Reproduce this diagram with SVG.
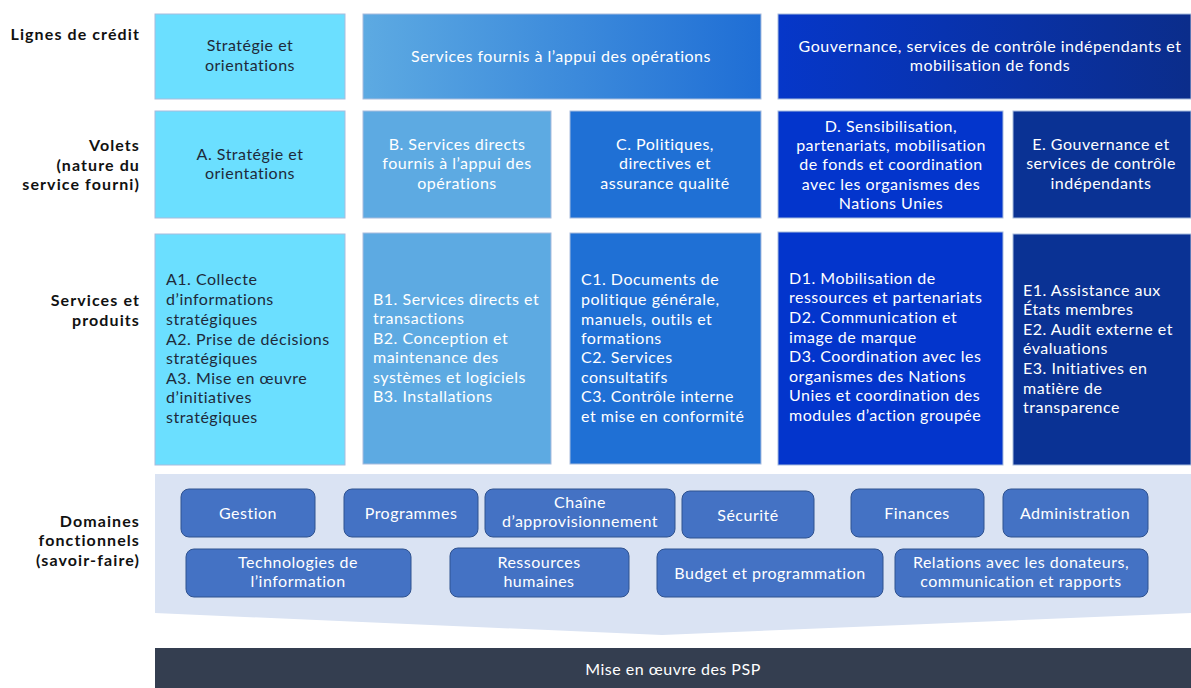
<svg xmlns="http://www.w3.org/2000/svg" width="1191" height="688" viewBox="0 0 1191 688">
<defs>
<linearGradient id="g2" x1="0" y1="0" x2="1" y2="0"><stop offset="0" stop-color="#5DAAE2"/><stop offset="1" stop-color="#1F6ED5"/></linearGradient>
<linearGradient id="g3" x1="0" y1="0" x2="1" y2="0"><stop offset="0" stop-color="#0637C9"/><stop offset="1" stop-color="#0B2D8B"/></linearGradient>
<style>
text{font-family:Lato,"Open Sans","Liberation Sans",sans-serif;font-size:16px;letter-spacing:0.5px}
.lbl{font-weight:bold;fill:#111;text-anchor:end;letter-spacing:1.1px}
.box{stroke:#A8BCDD;stroke-width:1}
.dk{fill:#1E2A3A}
.wt{fill:#fff}
.c{text-anchor:middle}
.dom{fill:#4472C4;stroke:#2F528F;stroke-width:1}
</style>
</defs>
<rect width="1191" height="688" fill="#fff"/>

<g id="labels">
<text class="lbl" x="140" y="40">Lignes de crédit</text>
<text class="lbl" x="140" y="151">Volets</text>
<text class="lbl" x="140" y="171">(nature du</text>
<text class="lbl" x="140" y="190">service fourni)</text>
<text class="lbl" x="140" y="306">Services et</text>
<text class="lbl" x="140" y="326">produits</text>
<text class="lbl" x="140" y="527">Domaines</text>
<text class="lbl" x="140" y="546">fonctionnels</text>
<text class="lbl" x="140" y="566">(savoir-faire)</text>
</g>

<g id="ligne1">
<rect class="box" x="155" y="14" width="190" height="85" fill="#6BDFFF"/>
<text class="dk c" x="250" y="51">Stratégie et</text>
<text class="dk c" x="250" y="71">orientations</text>
</g>
<g id="ligne2">
<rect class="box" x="363" y="14" width="398" height="85" fill="url(#g2)"/>
<text class="wt c" x="561" y="62">Services fournis à l’appui des opérations</text>
</g>
<g id="ligne3">
<rect class="box" x="778" y="14" width="413" height="85" fill="url(#g3)"/>
<text class="wt c" x="990" y="52">Gouvernance, services de contrôle indépendants et</text>
<text class="wt c" x="990" y="71">mobilisation de fonds</text>
</g>

<g id="voletA">
<rect class="box" x="155" y="111" width="190" height="107" fill="#6BDFFF"/>
<text class="dk c" x="250" y="160">A. Stratégie et</text>
<text class="dk c" x="250" y="179">orientations</text>
</g>
<g id="voletB">
<rect class="box" x="363" y="111" width="188" height="107" fill="#5DAAE2"/>
<text class="wt c" x="457" y="150">B. Services directs</text>
<text class="wt c" x="457" y="169">fournis à l’appui des</text>
<text class="wt c" x="457" y="189">opérations</text>
</g>
<g id="voletC">
<rect class="box" x="570" y="111" width="191" height="107" fill="#1F70D5"/>
<text class="wt c" x="665" y="150">C. Politiques,</text>
<text class="wt c" x="665" y="169">directives et</text>
<text class="wt c" x="665" y="189">assurance qualité</text>
</g>
<g id="voletD">
<rect class="box" x="778" y="111" width="225" height="107" fill="#0335CC"/>
<text class="wt c" x="891" y="132">D. Sensibilisation,</text>
<text class="wt c" x="891" y="151">partenariats, mobilisation</text>
<text class="wt c" x="891" y="170">de fonds et coordination</text>
<text class="wt c" x="891" y="190">avec les organismes des</text>
<text class="wt c" x="891" y="209">Nations Unies</text>
</g>
<g id="voletE">
<rect class="box" x="1013" y="111" width="178" height="107" fill="#0A3294"/>
<text class="wt c" x="1101" y="150">E. Gouvernance et</text>
<text class="wt c" x="1101" y="169">services de contrôle</text>
<text class="wt c" x="1101" y="189">indépendants</text>
</g>

<g id="servA">
<rect class="box" x="155" y="234" width="190" height="231" fill="#6BDFFF"/>
<text class="dk" x="166" y="285">A1. Collecte</text>
<text class="dk" x="166" y="305">d’informations</text>
<text class="dk" x="166" y="325">stratégiques</text>
<text class="dk" x="166" y="345">A2. Prise de décisions</text>
<text class="dk" x="166" y="364">stratégiques</text>
<text class="dk" x="166" y="384">A3. Mise en œuvre</text>
<text class="dk" x="166" y="403">d’initiatives</text>
<text class="dk" x="166" y="423">stratégiques</text>
</g>
<g id="servB">
<rect class="box" x="363" y="233" width="188" height="231" fill="#5DAAE2"/>
<text class="wt" x="373" y="305">B1. Services directs et</text>
<text class="wt" x="373" y="324">transactions</text>
<text class="wt" x="373" y="344">B2. Conception et</text>
<text class="wt" x="373" y="363">maintenance des</text>
<text class="wt" x="373" y="383">systèmes et logiciels</text>
<text class="wt" x="373" y="402">B3. Installations</text>
</g>
<g id="servC">
<rect class="box" x="570" y="233" width="191" height="231" fill="#1F70D5"/>
<text class="wt" x="581" y="285">C1. Documents de</text>
<text class="wt" x="581" y="305">politique générale,</text>
<text class="wt" x="581" y="325">manuels, outils et</text>
<text class="wt" x="581" y="344">formations</text>
<text class="wt" x="581" y="363">C2. Services</text>
<text class="wt" x="581" y="383">consultatifs</text>
<text class="wt" x="581" y="402">C3. Contrôle interne</text>
<text class="wt" x="581" y="422">et mise en conformité</text>
</g>
<g id="servD">
<rect class="box" x="778" y="232" width="225" height="233" fill="#0335CC"/>
<text class="wt" x="789" y="284">D1. Mobilisation de</text>
<text class="wt" x="789" y="303">ressources et partenariats</text>
<text class="wt" x="789" y="323">D2. Communication et</text>
<text class="wt" x="789" y="343">image de marque</text>
<text class="wt" x="789" y="362">D3. Coordination avec les</text>
<text class="wt" x="789" y="382">organismes des Nations</text>
<text class="wt" x="789" y="401">Unies et coordination des</text>
<text class="wt" x="789" y="421">modules d’action groupée</text>
</g>
<g id="servE">
<rect class="box" x="1013" y="234" width="178" height="231" fill="#0A3294"/>
<text class="wt" x="1023" y="296">E1. Assistance aux</text>
<text class="wt" x="1023" y="315">États membres</text>
<text class="wt" x="1023" y="335">E2. Audit externe et</text>
<text class="wt" x="1023" y="354">évaluations</text>
<text class="wt" x="1023" y="374">E3. Initiatives en</text>
<text class="wt" x="1023" y="394">matière de</text>
<text class="wt" x="1023" y="413">transparence</text>
</g>

<g id="domaines">
<polygon points="155,474 1191,474 1191,613 662,635 155,613" fill="#DAE3F3"/>
</g>
<g id="d-gestion"><rect class="dom" x="181" y="489" width="134" height="48" rx="8"/><text class="wt c" x="248" y="519">Gestion</text></g>
<g id="d-programmes"><rect class="dom" x="344" y="489" width="134" height="48" rx="8"/><text class="wt c" x="411" y="519">Programmes</text></g>
<g id="d-chaine"><rect class="dom" x="485" y="489" width="190" height="48" rx="8"/><text class="wt c" x="580" y="508">Chaîne</text><text class="wt c" x="580" y="527">d’approvisionnement</text></g>
<g id="d-securite"><rect class="dom" x="682" y="491" width="132" height="47" rx="8"/><text class="wt c" x="748" y="521">Sécurité</text></g>
<g id="d-finances"><rect class="dom" x="851" y="489" width="133" height="48" rx="8"/><text class="wt c" x="917" y="519">Finances</text></g>
<g id="d-admin"><rect class="dom" x="1003" y="489" width="145" height="48" rx="8"/><text class="wt c" x="1075" y="519">Administration</text></g>
<g id="d-ti"><rect class="dom" x="186" y="549" width="225" height="48" rx="8"/><text class="wt c" x="298" y="568">Technologies de</text><text class="wt c" x="298" y="587">l’information</text></g>
<g id="d-rh"><rect class="dom" x="450" y="548" width="179" height="49" rx="8"/><text class="wt c" x="539" y="568">Ressources</text><text class="wt c" x="539" y="587">humaines</text></g>
<g id="d-budget"><rect class="dom" x="657" y="549" width="226" height="48" rx="8"/><text class="wt c" x="770" y="579">Budget et programmation</text></g>
<g id="d-relations"><rect class="dom" x="895" y="549" width="253" height="48" rx="8"/><text class="wt c" x="1021" y="568">Relations avec les donateurs,</text><text class="wt c" x="1021" y="587">communication et rapports</text></g>

<g id="psp">
<rect x="155" y="648" width="1036" height="40" fill="#343E50"/>
<text class="wt c" x="673" y="675">Mise en œuvre des PSP</text>
</g>

<g id="connectors"></g>
</svg>
